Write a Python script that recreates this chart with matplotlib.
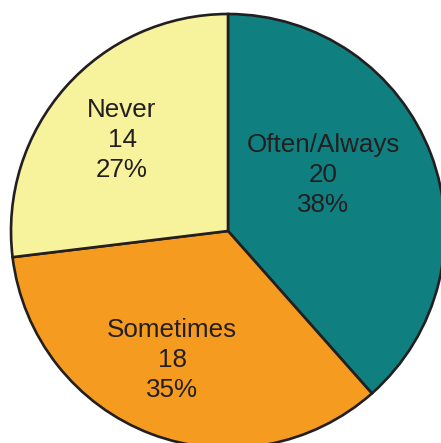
import matplotlib.pyplot as plt

# data
labels = ["Often/Always", "Sometimes", "Never"]
counts = [20, 18, 14]
colors = ["#0F7F7F", "#F59B20", "#F7F29C"]

total = sum(counts)
texts = [f"{l}\n{c}\n{round(c / total * 100)}%" for l, c in zip(labels, counts)]

fig = plt.figure(figsize=(4.41, 4.43), dpi=100)
ax = fig.add_axes([0, 0, 1, 1])

ax.pie(counts, colors=colors, startangle=90, counterclock=False,
       center=(228, 212), radius=217, frame=True,
       wedgeprops=dict(edgecolor="#231F20", linewidth=1.9))
ax.set_xlim(0, 441)
ax.set_ylim(0, 443)
ax.set_aspect("equal")
ax.axis("off")

# label positions (pixels, y measured from bottom)
label_pos = [(323, 268), (172, 83), (122, 303)]
for (x, y), t in zip(label_pos, texts):
    ax.text(x, y, t, ha="center", va="center", fontsize=18.7,
            family="Liberation Sans", color="#231F20", linespacing=1.32)

fig.savefig("out.png", dpi=100)
